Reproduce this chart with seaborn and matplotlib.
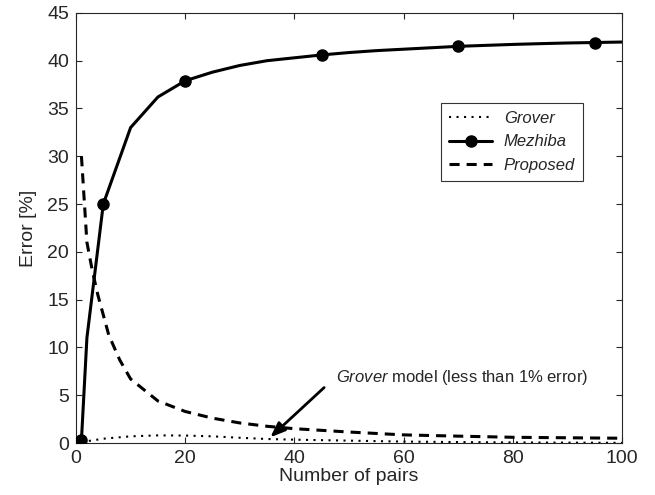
import numpy as np
import pandas as pd
import seaborn as sns
import matplotlib.pyplot as plt

# data
mezhiba_x = [1, 2, 5, 10, 15, 20, 25, 30, 35, 40, 45, 50, 55, 60, 65, 70, 75, 80, 85, 90, 95, 100]
mezhiba_y = [0.3, 11, 25, 33, 36.2, 37.9, 38.8, 39.5, 40.0, 40.3, 40.6, 40.85, 41.05, 41.2, 41.35, 41.5, 41.6, 41.7, 41.78, 41.85, 41.9, 41.95]
mezhiba_mark_x = [1, 5, 20, 45, 70, 95]

proposed_x = [1, 2, 3, 4, 5, 6, 8, 10, 15, 20, 25, 30, 35, 40, 50, 60, 70, 80, 90, 100]
proposed_y = [30, 21, 18, 15.5, 13.4, 11.3, 8.7, 6.7, 4.4, 3.3, 2.6, 2.1, 1.75, 1.5, 1.15, 0.85, 0.72, 0.6, 0.55, 0.5]

grover_x = [1, 5, 10, 15, 20, 25, 30, 35, 40, 50, 60, 70, 80, 90, 100]
grover_y = [0.1, 0.45, 0.7, 0.8, 0.78, 0.7, 0.55, 0.42, 0.35, 0.25, 0.15, 0.1, 0.06, 0.04, 0.02]

xticks = [0, 20, 40, 60, 80, 100]
yticks = [0, 5, 10, 15, 20, 25, 30, 35, 40, 45]

sns.set_style("ticks")
plt.rcParams['font.family'] = ['Liberation Sans', 'DejaVu Sans']
plt.rcParams['mathtext.fontset'] = 'custom'
plt.rcParams['mathtext.it'] = 'Liberation Sans:italic'
plt.rcParams['mathtext.rm'] = 'Liberation Sans'

fig, ax = plt.subplots(figsize=(6.55, 4.95), dpi=100)
fig.subplots_adjust(left=0.116, right=0.950, top=0.974, bottom=0.105)

grover = pd.DataFrame({'x': grover_x, 'y': grover_y})
mezhiba = pd.DataFrame({'x': mezhiba_x, 'y': mezhiba_y})
proposed = pd.DataFrame({'x': proposed_x, 'y': proposed_y})

sns.lineplot(data=grover, x='x', y='y', ax=ax, color='black', lw=1.5,
             linestyle=(0, (1, 2.6)), label='Grover')
sns.lineplot(data=mezhiba, x='x', y='y', ax=ax, color='black', lw=2.2, label='_m')
mark = mezhiba[mezhiba['x'].isin(mezhiba_mark_x)]
ax.plot(mark['x'], mark['y'], 'o', color='black', ms=8, zorder=5)
ax.plot([], [], '-o', color='black', lw=2.2, ms=8, label='Mezhiba')
sns.lineplot(data=proposed, x='x', y='y', ax=ax, color='black', lw=2.2,
             linestyle=(0, (3.3, 2.3)), label='Proposed')

ax.set_xlim(0, 100)
ax.set_ylim(0, 45)
ax.set_xticks(xticks)
ax.set_yticks(yticks)
ax.tick_params(direction='in', top=True, right=True, labelsize=14, length=4.3,
               width=0.8, pad=5)
for s in ax.spines.values():
    s.set_linewidth(0.8)
ax.set_xlabel('Number of pairs', fontsize=14, labelpad=1)
ax.set_ylabel('Error [%]', fontsize=14, labelpad=7)

leg = ax.legend(loc='upper right', bbox_to_anchor=(0.929, 0.791),
                prop={'style': 'italic', 'size': 12}, frameon=True, fancybox=False,
                edgecolor='black', handlelength=2.6, handletextpad=0.7,
                borderpad=0.5, labelspacing=0.5, borderaxespad=0)
leg.get_frame().set_linewidth(0.8)

ax.annotate('', xy=(35.2, 0.4), xytext=(45.8, 6.0),
            arrowprops=dict(arrowstyle='-|>,head_length=0.9,head_width=0.35',
                            color='black', lw=2))
ax.text(47.6, 6.9, r'$\it{Grover}$ model (less than 1% error)', fontsize=12, va='center')

plt.savefig('out.png', dpi=100)
